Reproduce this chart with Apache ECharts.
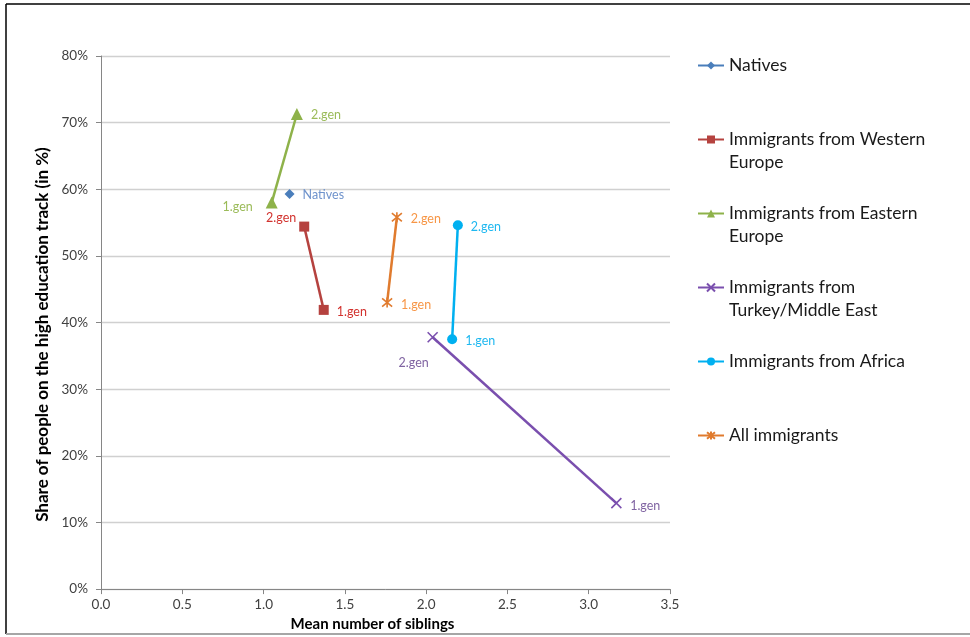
<!DOCTYPE html>
<html>
<head>
<meta charset="utf-8">
<script src="https://cdn.jsdelivr.net/npm/echarts@6/dist/echarts.min.js"></script>
<style>html,body{margin:0;padding:0;background:#fff}#c{width:970px;height:637px}</style>
</head>
<body>
<div id="c"></div>
<script>
// ---- data ----
const seriesNames = ['Natives', 'Immigrants from Western Europe', 'Immigrants from Eastern Europe', 'Immigrants from Turkey/Middle East', 'Immigrants from Africa', 'All immigrants'];
const nativesX = [1.16];        const nativesY = [59.3];        const nativesLbl = ['Natives'];
const westX = [1.25, 1.37];     const westY = [54.4, 41.9];     const westLbl = ['2.gen', '1.gen'];
const eastX = [1.05, 1.205];    const eastY = [58.0, 71.3];     const eastLbl = ['1.gen', '2.gen'];
const turkeyX = [2.04, 3.17];   const turkeyY = [37.8, 12.9];   const turkeyLbl = ['2.gen', '1.gen'];
const africaX = [2.16, 2.195];  const africaY = [37.5, 54.6];   const africaLbl = ['1.gen', '2.gen'];
const allX = [1.76, 1.82];      const allY = [43.0, 55.8];      const allLbl = ['1.gen', '2.gen'];
const xTicks = [0, 0.5, 1.0, 1.5, 2.0, 2.5, 3.0, 3.5];
const yTicks = [0, 10, 20, 30, 40, 50, 60, 70, 80];

// ---- styles ----
const FONT = 'Lato, "Open Sans", sans-serif';
const X_PATH = 'path://M0,0L10,10M10,0L0,10';
const STAR_PATH = 'path://M0,0L10,10M10,0L0,10M5,-1L5,11';
const styles = [
  { line: '#4A7EBB', lab: '#6F93CC', symbol: 'diamond', size: 10, stroke: false, pos: [['right', [3, 1]]] },
  { line: '#B5423F', lab: '#D2322E', symbol: 'rect', size: 10, stroke: false, pos: [['left', [2, -9]], ['right', [3, 2]]] },
  { line: '#8EB24A', lab: '#9BBB59', symbol: 'triangle', size: 12, stroke: false, pos: [['left', [-8, 4]], ['right', [3, 1]]] },
  { line: '#7A4FAE', lab: '#8064A2', symbol: X_PATH, size: 10, stroke: true, pos: [['bottom', [-19, 8]], ['right', [3, 3]]] },
  { line: '#00B0F0', lab: '#1FB8F0', symbol: 'circle', size: 10, stroke: false, pos: [['right', [3, 2]], ['right', [3, 2]]] },
  { line: '#E07B2E', lab: '#F79646', symbol: STAR_PATH, size: 10, stroke: true, pos: [['right', [3, 2]], ['right', [3, 2]]] }
];
const xs = [nativesX, westX, eastX, turkeyX, africaX, allX];
const ys = [nativesY, westY, eastY, turkeyY, africaY, allY];
const lbls = [nativesLbl, westLbl, eastLbl, turkeyLbl, africaLbl, allLbl];

const series = seriesNames.map((name, i) => {
  const st = styles[i];
  return {
    name: name,
    type: 'line',
    symbol: st.symbol,
    symbolSize: st.size,
    itemStyle: st.stroke ? { color: st.line, borderColor: st.line, borderWidth: 1.6 } : { color: st.line },
    lineStyle: { color: st.line, width: 2.5 },
    emphasis: { disabled: true },
    data: xs[i].map((x, j) => ({
      value: [x, ys[i][j]],
      label: {
        show: true,
        formatter: lbls[i][j],
        position: st.pos[j][0],
        offset: st.pos[j][1],
        color: st.lab,
        fontFamily: FONT,
        fontSize: 12.5
      }
    }))
  };
});

const legendText = [
  'Natives',
  '\nImmigrants from Western\nEurope',
  '\nImmigrants from Eastern\nEurope',
  '\nImmigrants from\nTurkey/Middle East',
  'Immigrants from Africa',
  'All immigrants'
];
const legendTops = [66, 140, 214, 288, 362, 436];
const legends = seriesNames.map((n, i) => {
  const multi = legendText[i].indexOf('\n') >= 0;
  return {
    data: [n],
    left: 697,
    top: legendTops[i] - (multi ? 35 : 12),
    orient: 'vertical',
    itemWidth: 26,
    itemHeight: 10,
    itemGap: 0,
    padding: 0,
    selectedMode: false,
    formatter: () => legendText[i],
    textStyle: { fontFamily: FONT, fontSize: 17.5, color: '#1a1a1a', lineHeight: 23 }
  };
});

const chart = echarts.init(document.getElementById('c'), null, { renderer: 'canvas' });
chart.setOption({
  animation: false,
  backgroundColor: '#fff',
  textStyle: { fontFamily: FONT },
  grid: { left: 101, right: 300, top: 56, bottom: 46, containLabel: false },
  legend: legends,
  graphic: [
    { type: 'line', shape: { x1: 6, y1: 4, x2: 970, y2: 4 }, style: { stroke: '#000', lineWidth: 1.5 } },
    { type: 'line', shape: { x1: 6, y1: 4, x2: 6, y2: 634 }, style: { stroke: '#000', lineWidth: 1.5 } },
    { type: 'line', shape: { x1: 6, y1: 634, x2: 970, y2: 634 }, style: { stroke: '#A6A6A6', lineWidth: 2 } }
  ],
  xAxis: {
    type: 'value',
    min: xTicks[0],
    max: xTicks[xTicks.length - 1],
    interval: 0.5,
    name: 'Mean number of siblings',
    nameLocation: 'middle',
    nameGap: 26,
    nameTextStyle: { fontFamily: FONT, fontSize: 15, fontWeight: 'bold', color: '#000', padding: [0, 26, 0, 0] },
    axisLine: { show: true, onZero: false, lineStyle: { color: '#868686', width: 1 } },
    axisTick: { show: true, inside: false, length: 5, lineStyle: { color: '#868686' } },
    axisLabel: { fontFamily: FONT, fontSize: 13.5, color: '#404040', margin: 9, formatter: v => v.toFixed(1) },
    splitLine: { show: false }
  },
  yAxis: {
    type: 'value',
    min: yTicks[0],
    max: yTicks[yTicks.length - 1],
    interval: 10,
    name: 'Share of people on the high education track (in %)',
    nameLocation: 'middle',
    nameGap: 47,
    nameTextStyle: { fontFamily: FONT, fontSize: 17, fontWeight: 'bold', color: '#000', padding: [0, 24, 0, 0] },
    axisLine: { show: true, lineStyle: { color: '#868686', width: 1 } },
    axisTick: { show: true, length: 5, lineStyle: { color: '#868686' } },
    axisLabel: { fontFamily: FONT, fontSize: 13.5, color: '#404040', margin: 13, formatter: v => v + '%' },
    splitLine: { show: true, lineStyle: { color: '#D0D0D0', width: 1.3 } }
  },
  series: series
});
</script>
</body>
</html>
